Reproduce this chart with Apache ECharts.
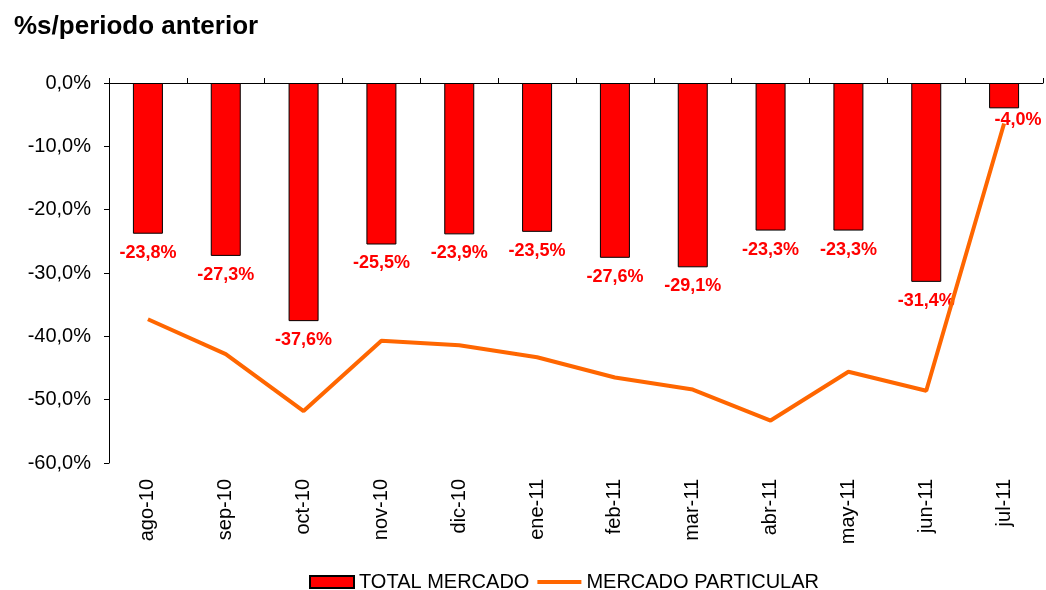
<!DOCTYPE html>
<html>
<head>
<meta charset="utf-8">
<script src="https://cdn.jsdelivr.net/npm/echarts@6/dist/echarts.min.js"></script>
<style>
  html, body { margin: 0; padding: 0; background: #fff; }
  #chart { width: 1046px; height: 590px; }
</style>
</head>
<body>
<div id="chart"></div>
<script>
const categories = ["ago-10", "sep-10", "oct-10", "nov-10", "dic-10", "ene-11", "feb-11", "mar-11", "abr-11", "may-11", "jun-11", "jul-11"];
const totalMercado = [-23.8, -27.3, -37.6, -25.5, -23.9, -23.5, -27.6, -29.1, -23.3, -23.3, -31.4, -4.0];
const mercadoParticular = [-37.3, -42.8, -51.8, -40.7, -41.4, -43.3, -46.5, -48.4, -53.3, -45.6, -48.6, -6.4];

const font = "Arial, 'Liberation Sans', sans-serif";
const fmt = (v) => v.toFixed(1).replace(".", ",") + "%";

const chart = echarts.init(document.getElementById("chart"));

// la última etiqueta va desplazada a la derecha como en el original
const barData = totalMercado.map((v, i) =>
  i === totalMercado.length - 1 ? { value: v, label: { offset: [14, -7] } } : v
);

const option = {
  animation: false,
  title: {
    text: "%s/periodo anterior",
    left: 9,
    top: 9,
    textStyle: { fontFamily: font, fontSize: 26, fontWeight: "bold", color: "#000" },
  },
  legend: {
    top: 567,
    left: 304,
    itemWidth: 44,
    itemHeight: 12,
    itemGap: 6,
    textStyle: { fontFamily: font, fontSize: 20, color: "#000" },
    data: [
      { name: "TOTAL MERCADO", icon: "rect" },
      { name: "MERCADO PARTICULAR", itemStyle: { opacity: 0 }, lineStyle: { width: 4 } },
    ],
  },
  grid: { left: 109, right: 3, top: 83, bottom: 127 },
  xAxis: [
    {
      // línea del eje en el 0, arriba
      type: "category",
      position: "top",
      data: categories,
      axisLine: { lineStyle: { color: "#000", width: 1 } },
      axisTick: { show: true, length: 5, lineStyle: { color: "#000" } },
      axisLabel: { show: false },
    },
    {
      // etiquetas abajo
      type: "category",
      position: "bottom",
      data: categories,
      axisLine: { show: false },
      axisTick: { show: false },
      axisLabel: {
        rotate: 90,
        margin: 16,
        fontFamily: font,
        fontSize: 20,
        color: "#000",
      },
    },
  ],
  yAxis: {
    type: "value",
    min: -60,
    max: 0,
    interval: 10,
    splitLine: { show: false },
    axisLine: { show: true, lineStyle: { color: "#000" } },
    axisTick: { show: true, length: 5, lineStyle: { color: "#000" } },
    axisLabel: {
      formatter: fmt,
      margin: 18,
      fontFamily: font,
      fontSize: 20,
      color: "#000",
    },
  },
  series: [
    {
      name: "TOTAL MERCADO",
      type: "bar",
      xAxisIndex: 0,
      barWidth: 30,
      data: barData,
      itemStyle: { color: "#FF0000", borderColor: "#000", borderWidth: 1 },
      label: {
        show: true,
        position: "bottom",
        distance: 10,
        formatter: (p) => fmt(p.value),
        fontFamily: font,
        fontSize: 18,
        fontWeight: "bold",
        color: "#FF0000",
      },
      z: 2,
    },
    {
      name: "MERCADO PARTICULAR",
      type: "line",
      xAxisIndex: 0,
      data: mercadoParticular,
      symbol: "none",
      lineStyle: { color: "#FF6600", width: 4 },
      itemStyle: { color: "#FF6600" },
      z: 3,
    },
  ],
};

chart.setOption(option);
</script>
</body>
</html>
